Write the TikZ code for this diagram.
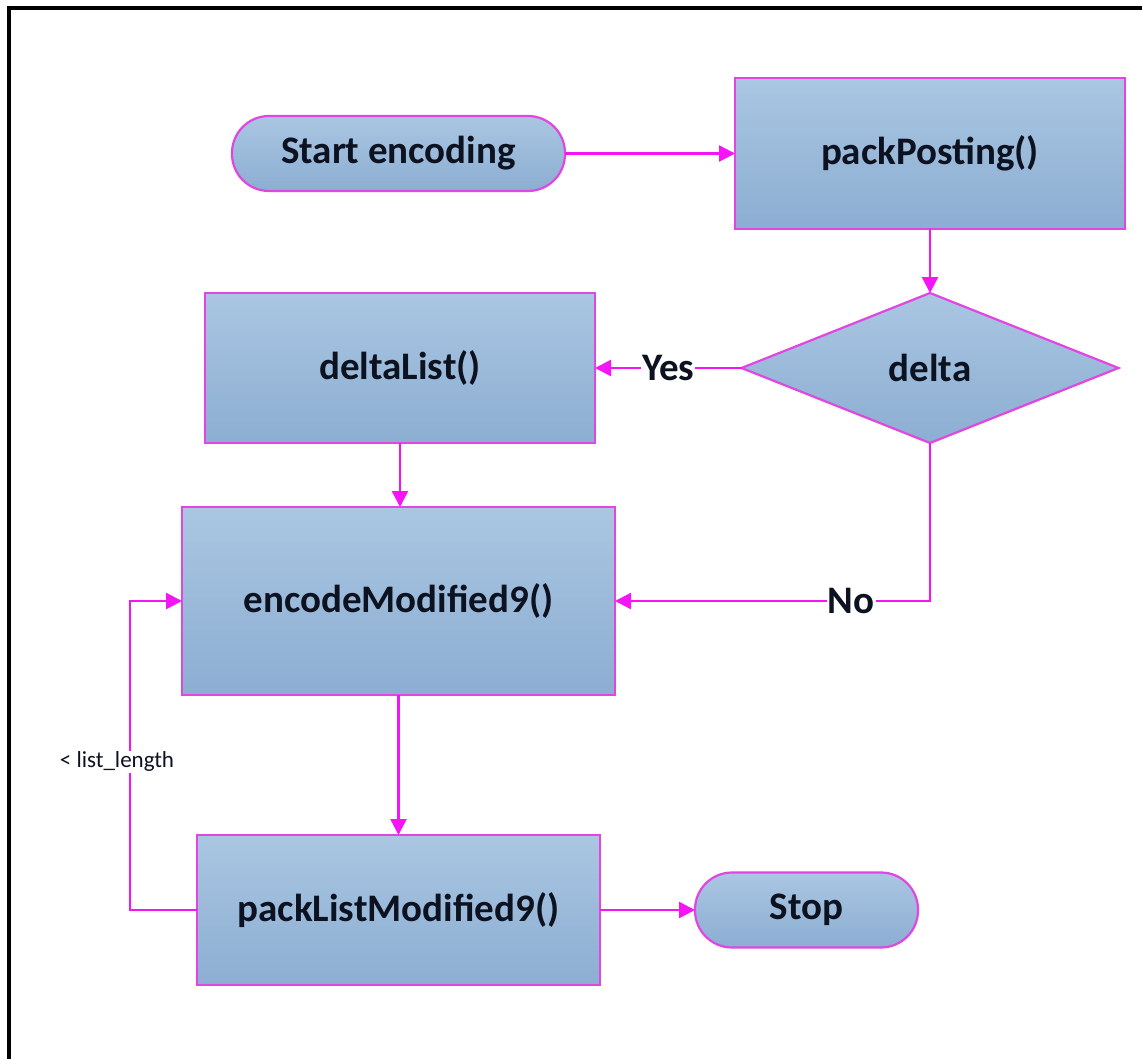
\documentclass[tikz,border=0pt]{standalone}
\usepackage{fontspec}
\setmainfont{Carlito}
\usetikzlibrary{arrows.meta,shapes.geometric}
\definecolor{edgemag}{RGB}{225,70,225}
\definecolor{linemag}{RGB}{245,20,245}
\definecolor{filltop}{RGB}{170,198,226}
\definecolor{fillbot}{RGB}{140,174,210}
\definecolor{txt}{RGB}{12,18,32}
\tikzset{
  x=1pt, y=-1pt,
  base/.style={draw=edgemag, line width=2.2pt, top color=filltop, bottom color=fillbot,
    text=txt, font=\fontsize{39}{44}\selectfont\bfseries, inner sep=0pt, outer sep=0pt},
  procbox/.style={base, rectangle},
  termbox/.style={base, rectangle, rounded corners=37pt},
  decbox/.style={base, diamond, aspect=2.5},
  conn/.style={draw=linemag, line width=2.5pt, -{Triangle[length=16pt,width=16pt]}},
  lbl/.style={fill=white, text=txt, inner sep=1pt, font=\fontsize{39}{44}\selectfont\bfseries},
  small/.style={fill=white, text=txt, inner sep=1pt, font=\fontsize{23}{26}\selectfont},
}
\begin{document}
\begin{tikzpicture}
\useasboundingbox (0,0) rectangle (1142,1059);
\draw[line width=4pt] (9,1059) -- (9,8) -- (1142,8);

\node[termbox, minimum width=333pt, minimum height=75pt] (start) at (398.5,153.5) {Start encoding};
\node[procbox, minimum width=390pt, minimum height=151pt] (pack) at (930,153.5) {packPosting()};
\node[decbox, minimum width=377pt, minimum height=150pt] (delta) at (930,368) {delta};
\node[procbox, minimum width=390pt, minimum height=150pt] (dlist) at (400,368) {deltaList()};
\node[procbox, minimum width=433pt, minimum height=188pt] (enc) at (398.5,601) {encodeModified9()};
\node[procbox, minimum width=403pt, minimum height=150pt] (plist) at (398.5,910) {packListModified9()};
\node[termbox, minimum width=223pt, minimum height=75pt] (stop) at (806.5,910) {Stop};

\coordinate (nocorner) at (930,601);
\coordinate (loopbot) at (130,910);
\coordinate (looptop) at (130,601);

\draw[conn] (start) -- (pack);
\draw[conn] (pack) -- (delta.north);
\draw[conn] (delta.west) -- node[lbl, pos=0.5] {Yes} (dlist.east);
\draw[conn] (dlist) -- (dlist |- enc.north);
\draw[conn] (delta.south) -- (nocorner) -- node[lbl, pos=0.25] {No} (enc.east |- nocorner);
\draw[conn] (enc) -- (enc |- plist.north);
\draw[conn] (plist.west) -- (loopbot) -- node[small, pos=0.48, xshift=-13pt] {< list\_length} (looptop) -- (enc.west);
\draw[conn] (plist.east) -- (stop.west);
\end{tikzpicture}
\end{document}
